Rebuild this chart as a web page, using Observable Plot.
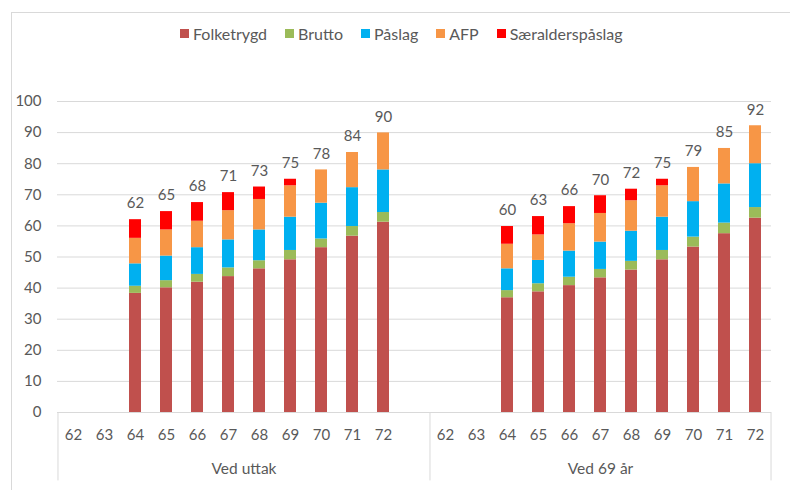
<!DOCTYPE html>
<html>
<head>
<meta charset="utf-8">
<script src="https://cdn.jsdelivr.net/npm/d3@7"></script>
<script src="https://cdn.jsdelivr.net/npm/@observablehq/plot@0.6"></script>
<style>
  html, body { margin: 0; padding: 0; background: #fff; }
  #wrap { position: relative; width: 790px; height: 490px; overflow: hidden; font-family: Lato, sans-serif; }
  #border { position: absolute; left: 11px; top: 12px; width: 820px; height: 520px; border: 1px solid #D9D9D9; box-sizing: border-box; }
  #legend { position: absolute; left: 180px; top: 24px; display: flex; align-items: center; gap: 18px; color: #595959; font-size: 16px; z-index: 2; white-space: nowrap; }
  #legend .item { display: flex; align-items: center; }
  #legend .sw { width: 9px; height: 9px; margin-right: 4px; }
  #chart { position: absolute; left: 0; top: 0; }
</style>
</head>
<body>
<div id="wrap">
  <div id="border"></div>
  <div id="legend"></div>
  <div id="chart"></div>
</div>
<script>
// ---- data ----
const ages = ["62","63","64","65","66","67","68","69","70","71","72"];
const groups = ["Ved uttak", "Ved 69 år"];
const series = ["Folketrygd", "Brutto", "Påslag", "AFP", "Særalderspåslag"];
const colors = ["#C0504D", "#9BBB59", "#00B0F0", "#F79646", "#FF0000"];

// values for ages 62..72 (62 and 63 empty)
const uttakFolketrygd = [null, null, 38.3, 40.1, 41.9, 43.7, 46.2, 49.1, 53.0, 56.7, 61.2];
const uttakBrutto     = [null, null, 2.3, 2.3, 2.5, 2.8, 2.6, 3.0, 2.8, 3.1, 3.1];
const uttakPaslag     = [null, null, 7.2, 7.9, 8.6, 9.0, 9.9, 10.7, 11.5, 12.5, 13.7];
const uttakAFP        = [null, null, 8.2, 8.4, 8.5, 9.4, 9.8, 10.1, 10.7, 11.3, 11.9];
const uttakSaer       = [null, null, 6.0, 5.9, 6.0, 5.8, 4.0, 2.1, 0, 0, 0];
const uttakLabels     = [null, null, 62, 65, 68, 71, 73, 75, 78, 84, 90];

const ar69Folketrygd = [null, null, 36.9, 38.8, 40.8, 43.3, 45.8, 49.1, 53.2, 57.5, 62.5];
const ar69Brutto     = [null, null, 2.3, 2.6, 2.7, 2.7, 2.8, 3.0, 3.2, 3.4, 3.4];
const ar69Paslag     = [null, null, 7.0, 7.5, 8.4, 8.8, 9.7, 10.7, 11.4, 12.6, 14.1];
const ar69AFP        = [null, null, 7.9, 8.2, 8.8, 9.2, 9.8, 10.1, 11.0, 11.4, 12.2];
const ar69Saer       = [null, null, 5.7, 5.9, 5.5, 5.7, 3.7, 2.1, 0, 0, 0];
const ar69Labels     = [null, null, 60, 63, 66, 70, 72, 75, 79, 85, 92];

const yTicks = [0, 10, 20, 30, 40, 50, 60, 70, 80, 90, 100];

// ---- build tables ----
const groupSeries = [
  [uttakFolketrygd, uttakBrutto, uttakPaslag, uttakAFP, uttakSaer],
  [ar69Folketrygd, ar69Brutto, ar69Paslag, ar69AFP, ar69Saer]
];
const groupLabelsArr = [uttakLabels, ar69Labels];
const keyOf = (gi, age) => gi + "|" + age;
const GAP = "gap";
const xDomain = [...ages.map(a => keyOf(0, a)), GAP, ...ages.map(a => keyOf(1, a))];

const rows = [];
const totals = [];
groups.forEach((g, gi) => {
  ages.forEach((a, ai) => {
    let sum = 0;
    series.forEach((s, si) => {
      const v = groupSeries[gi][si][ai];
      if (v != null) { rows.push({key: keyOf(gi, a), series: s, value: v}); sum += v; }
    });
    const lab = groupLabelsArr[gi][ai];
    if (lab != null) totals.push({key: keyOf(gi, a), total: sum, label: String(lab)});
  });
});

// ---- layout ----
const W = 790, H = 490, mL = 57, mR = 19, mT = 101, mB = 78;
const step = (W - mL - mR) / xDomain.length;
const textColor = "#595959";
const gridColor = "#D9D9D9";

const separators = [keyOf(0, "62"), keyOf(1, "62")];

const plot = Plot.plot({
  width: W, height: H,
  marginLeft: mL, marginRight: mR, marginTop: mT, marginBottom: mB,
  style: {fontFamily: "Lato, sans-serif", fontSize: "15px", color: textColor, background: "transparent", overflow: "visible"},
  x: {type: "band", domain: xDomain, paddingInner: 0.6, paddingOuter: 0.3, axis: null},
  y: {domain: [0, 100], axis: null},
  color: {domain: series, range: colors},
  marks: [
    Plot.gridY(yTicks, {stroke: gridColor, strokeOpacity: 1, strokeWidth: 1}),
    Plot.axisY(yTicks, {tickSize: 0, tickPadding: 16, label: null, fill: textColor, fontSize: 15}),
    Plot.barY(rows, {x: "key", y: "value", fill: "series", order: series}),
    Plot.text(totals, {x: "key", y: "total", text: "label", dy: -16, fill: textColor, fontSize: 15}),
    Plot.axisX({tickSize: 0, tickPadding: 17, label: null, fill: textColor, fontSize: 15,
      tickFormat: k => k === GAP ? "" : k.split("|")[1]}),
    Plot.ruleX(separators, {x: d => d, y1: 0, y2: -22, dx: -step / 2, stroke: gridColor, strokeOpacity: 1}),
    Plot.ruleX([keyOf(1, "72")], {x: d => d, y1: 0, y2: -22, dx: step / 2, stroke: gridColor, strokeOpacity: 1}),
    Plot.text([groups[0]], {x: () => keyOf(0, "68"), y: () => 0, dy: 57, dx: -step / 2, text: d => d, fill: textColor, fontSize: 15.5}),
    Plot.text([groups[1]], {x: () => keyOf(1, "67"), y: () => 0, dy: 57, text: d => d, fill: textColor, fontSize: 15.5}),
    Plot.ruleY([0], {stroke: gridColor, strokeOpacity: 1})
  ]
});
document.getElementById("chart").appendChild(plot);

// ---- legend ----
const legend = document.getElementById("legend");
series.forEach((s, i) => {
  const item = document.createElement("div");
  item.className = "item";
  const sw = document.createElement("span");
  sw.className = "sw";
  sw.style.background = colors[i];
  const t = document.createElement("span");
  t.textContent = s;
  item.appendChild(sw);
  item.appendChild(t);
  legend.appendChild(item);
});
</script>
</body>
</html>
